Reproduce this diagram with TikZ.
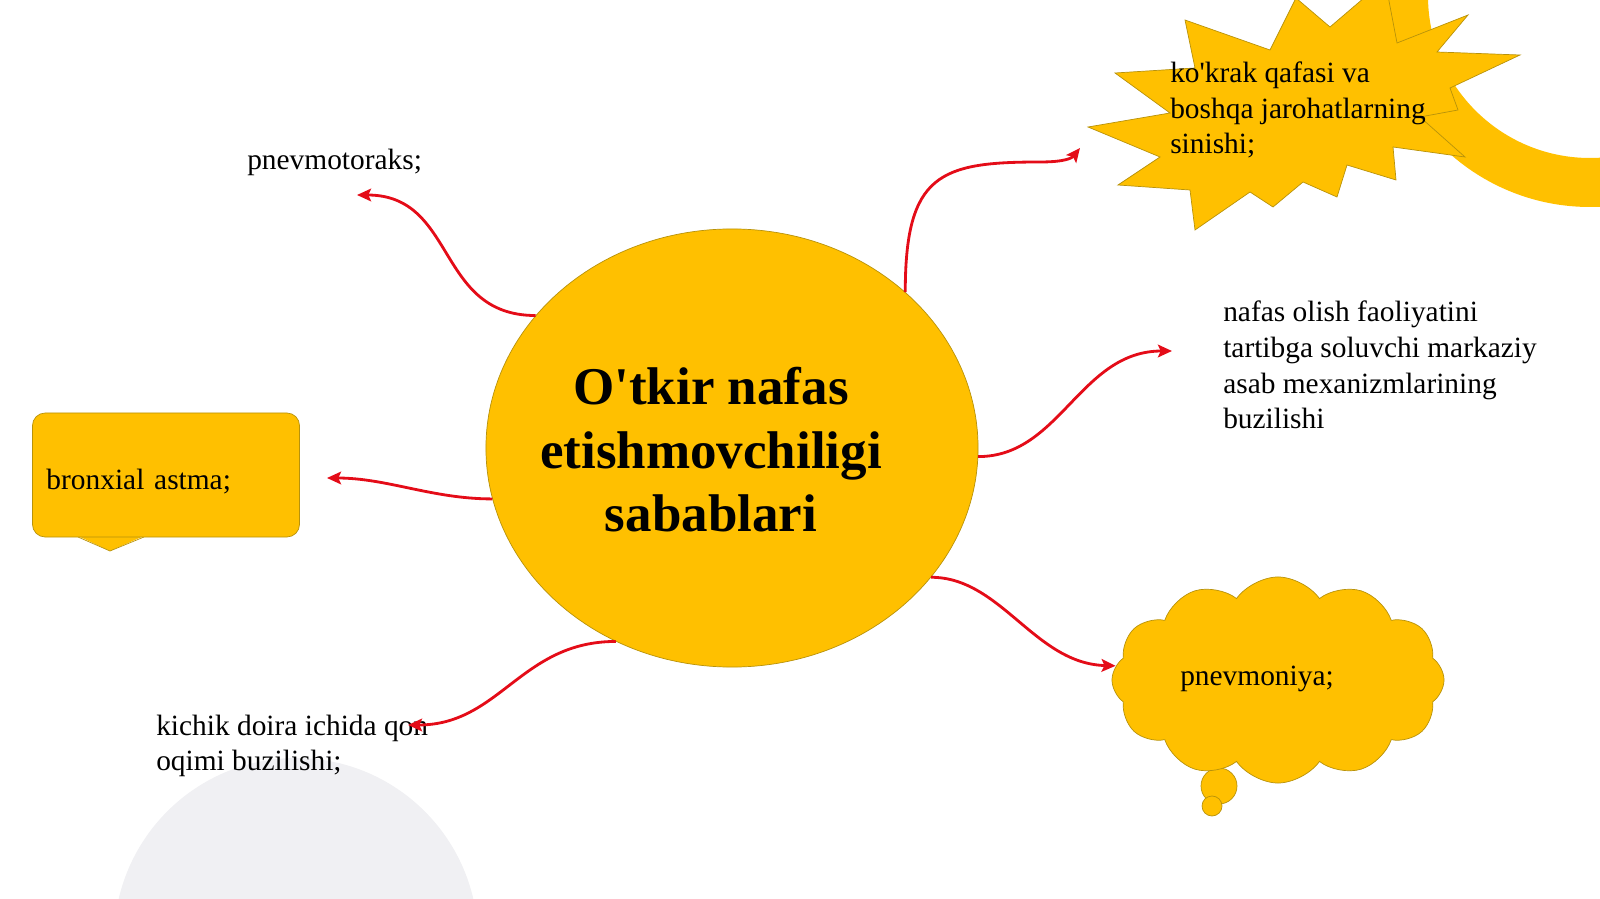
\documentclass[tikz,border=0pt]{standalone}
\usepackage{fontspec}
\setmainfont{Liberation Serif}
\usepackage{tikz}
\usetikzlibrary{positioning,shapes.geometric,shapes.symbols,arrows.meta}
\definecolor{gold}{RGB}{255,192,0}
\definecolor{goldedge}{RGB}{184,146,10}
\definecolor{linkred}{RGB}{228,12,24}
\definecolor{ghost}{RGB}{240,240,243}

\begin{document}
\begin{tikzpicture}[x=0.025cm, y=-0.025cm,
  blob/.style={fill=gold, draw=goldedge, line width=0.5pt},
  txt/.style={font=\fontsize{20.9}{25.4}\selectfont, inner sep=0pt, align=left},
  link/.style={draw=linkred, line width=2pt, -{Stealth[length=10pt,width=9pt,inset=2pt]}}]
\useasboundingbox (0,0) rectangle (1600,899);
% background shapes
\fill[ghost] (296,940) circle[radius=182];
\fill[gold, even odd rule] (1590,-4) circle[radius=211] (1590,-4) circle[radius=162];
\filldraw[blob] (1088,127) -- (1170,113) -- (1115,73) -- (1195,68) -- (1185,20)
  -- (1270,50) -- (1296,-2) -- (1330,27) -- (1385,-20) -- (1397,43) -- (1468,15)
  -- (1437,52) -- (1520,55) -- (1450,88) -- (1458,110) -- (1420,117) -- (1465,157)
  -- (1393,147) -- (1396,180) -- (1347,165) -- (1337,197) -- (1303,182) -- (1273,207)
  -- (1250,192) -- (1195,230) -- (1190,190) -- (1118,185) -- (1160,157) -- cycle;

% centre
\node (causes) [blob, ellipse, minimum width=12.3cm, minimum height=10.95cm] at (732,448) {};
\node (title) [font=\fontsize{37.7}{45.2}\selectfont\bfseries, align=center, inner sep=0pt]
  at (711,450) {O\textquotesingle tkir nafas\\etishmovchiligi\\sabablari};

% callout
\fill[gold] (76,535) -- (110,551) -- (146,535) -- cycle;
\draw[goldedge, line width=0.5pt] (78,537) -- (110,551) -- (144,537);
\node (astma) [blob, txt, rounded corners=9pt, text width=5.975cm, minimum height=3.1cm,
  inner xsep=0.35cm, text height=23.5pt] at (166,475) {bronxial astma;};

% cloud
\filldraw[blob] (1219,786) circle[radius=18];
\filldraw[blob] (1212,806) circle[radius=10];
\node (cloud) [blob, cloud, cloud puffs=12, cloud puff arc=110, aspect=1.6,
  minimum width=8.3cm, minimum height=5.15cm] at (1278,680) {};

% texts
\node (toraks) [txt, anchor=base west] at (247,170) {pnevmotoraks;};
\node (krak) [txt, anchor=west] at (1170,110) {ko\textquotesingle krak qafasi va\\boshqa jarohatlarning\\sinishi;};
\node (markaz) [txt, anchor=west] at (1223,365) {nafas olish faoliyatini\\tartibga soluvchi markaziy\\asab mexanizmlarining\\buzilishi};
\node (qon) [txt, anchor=west] at (156,746) {kichik doira ichida qon\\oqimi buzilishi;};
\node (pnevmoniya) [txt, anchor=base west] at (1180,685) {pnevmoniya;};

% arrow ends
\coordinate (toTor) at (357,195);
\coordinate (toAst) at (327,478);
\coordinate (toQon) at (408,725);
\coordinate (krakMid) at (1040,162);
\coordinate (toKrak) at (1080,148);
\coordinate (toMark) at (1172,351);

\draw[link] (causes.146) .. controls +(-100,0) and +(100,0) .. (toTor);
\draw[link] (causes.192) .. controls +(-60,0) and +(60,0) .. (toAst);
\draw[link] (causes.239) .. controls +(-95,0) and +(92,0) .. (toQon);
\draw[link] (causes.42) .. controls +(0,-118) and +(-100,0) .. (krakMid)
  .. controls +(25,0) and +(-8,10) .. (toKrak);
\draw[link] (causes.358) .. controls +(82,0) and +(-92,0) .. (toMark);
\draw[link] (causes.327) .. controls +(70,0) and +(-81,-2) .. (cloud.175);
\end{tikzpicture}
\end{document}
